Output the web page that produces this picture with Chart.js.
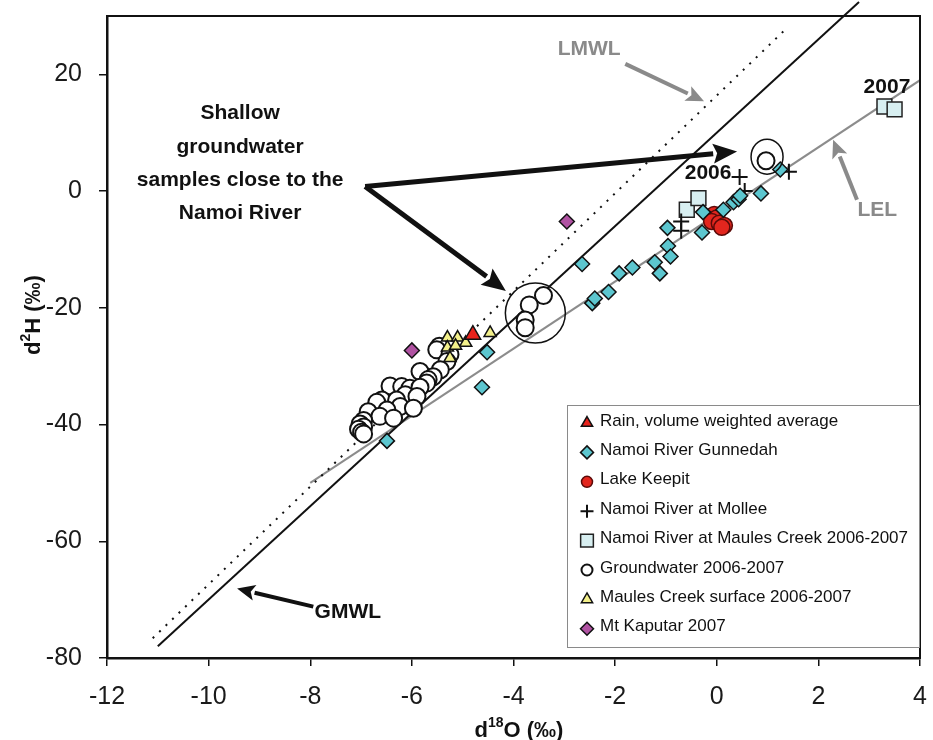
<!DOCTYPE html>
<html>
<head>
<meta charset="utf-8">
<script src="https://cdn.jsdelivr.net/npm/chart.js@4"></script>
<style>
  html, body { margin: 0; padding: 0; background: #fff; }
  #wrap { width: 933px; height: 740px; }
</style>
</head>
<body>
<div id="wrap"><canvas id="isoChart" width="933" height="740"></canvas></div>
<script>
// tick labels
const xTickValues = [-12, -10, -8, -6, -4, -2, 0, 2, 4];
const yTickValues = [-80, -60, -40, -20, 0, 20];

// series, [d18O, d2H]
const rainPts = [[-4.8, -24.6]];
const gunnedahPts = [
  [-6.49, -42.8], [-4.62, -33.6], [-4.52, -27.6], [-2.65, -12.5], [-2.45, -19.2],
  [-2.40, -18.4], [-2.13, -17.3], [-1.92, -14.1], [-1.66, -13.1], [-1.22, -12.2],
  [-1.12, -14.1], [-0.97, -6.3], [-0.96, -9.4], [-0.91, -11.2], [-0.29, -7.1],
  [-0.27, -3.6], [0.13, -3.2], [0.33, -1.9], [0.43, -1.4], [0.46, -0.8],
  [0.87, -0.4], [1.25, 3.7]
];
const keepitPts = [[-0.05, -4.0], [0.0, -4.6], [-0.1, -5.2], [0.05, -5.5], [0.15, -5.9], [0.1, -6.2]];
const molleePts = [[-0.7, -5.2], [-0.7, -6.8], [0.45, 2.4], [0.55, 0.0], [1.42, 3.3]];
const maulesCreekPts = [[-0.59, -3.2], [-0.36, -1.2], [3.3, 14.5], [3.5, 14.0]];
const groundwaterPts = [
  [-5.46, -26.6], [-5.51, -27.2], [-5.25, -28.0], [-5.31, -29.2], [-5.44, -30.6],
  [-5.84, -30.9], [-5.58, -31.8], [-5.68, -32.3], [-5.71, -32.9], [-6.43, -33.4],
  [-6.20, -33.5], [-6.04, -33.8], [-5.84, -33.6], [-6.13, -34.9], [-5.90, -35.2],
  [-6.59, -35.8], [-6.30, -35.8], [-6.69, -36.2], [-6.23, -36.9], [-5.97, -37.2],
  [-6.49, -37.5], [-6.86, -37.8], [-6.63, -38.6], [-6.36, -38.9], [-6.95, -39.3],
  [-7.02, -39.9], [-6.95, -40.4], [-7.05, -40.8], [-6.99, -41.3], [-6.95, -41.6],
  [-3.41, -17.9], [-3.69, -19.5], [-3.77, -22.1], [-3.77, -23.4], [0.97, 5.2]
];
const maulesSurfacePts = [
  [-5.30, -25.1], [-5.10, -25.1], [-4.94, -26.0], [-5.30, -26.8], [-5.14, -26.5],
  [-5.25, -28.6], [-4.46, -24.3]
];
const kaputarPts = [[-6.0, -27.3], [-2.95, -5.2]];

// reference lines
const gmwlLine = [[-11, -78], [2.8, 32.4]];
const lmwlLine = [[-11.1, -76.6], [1.4, 28.1]];
const lelLine = [[-8, -50], [4, 19]];

const seriesNames = [
  'Rain, volume weighted average', 'Namoi River Gunnedah', 'Lake Keepit',
  'Namoi River at Mollee', 'Namoi River at Maules Creek 2006-2007',
  'Groundwater 2006-2007', 'Maules Creek surface 2006-2007', 'Mt Kaputar 2007'
];

const toXY = arr => arr.map(p => ({ x: p[0], y: p[1] }));

document.addEventListener('DOMContentLoaded', function () {
  const FONT = '"Liberation Sans", Arial, sans-serif';

  const styles = [
    { pointStyle: 'triangle', radius: 9, fill: '#e8231c', stroke: '#111', lw: 1.5 },
    { pointStyle: 'rectRot', radius: 7.5, fill: '#5cc6cf', stroke: '#111', lw: 1.5 },
    { pointStyle: 'circle', radius: 8, fill: '#e3261e', stroke: '#5a0a08', lw: 1.5 },
    { pointStyle: 'cross', radius: 8, fill: '#111', stroke: '#111', lw: 2 },
    { pointStyle: 'rect', radius: 10.5, fill: '#d8eff1', stroke: '#222', lw: 1.5 },
    { pointStyle: 'circle', radius: 8.5, fill: '#ffffff', stroke: '#111', lw: 2 },
    { pointStyle: 'triangle', radius: 7, fill: '#f3f08a', stroke: '#111', lw: 1.5 },
    { pointStyle: 'rectRot', radius: 7.5, fill: '#b052a2', stroke: '#111', lw: 1.5 }
  ];
  const seriesData = [rainPts, gunnedahPts, keepitPts, molleePts, maulesCreekPts,
    groundwaterPts, maulesSurfacePts, kaputarPts];

  const pointSets = seriesData.map((pts, i) => ({
    label: seriesNames[i],
    data: toXY(pts),
    pointStyle: styles[i].pointStyle,
    pointRadius: styles[i].radius,
    pointBackgroundColor: styles[i].fill,
    pointBorderColor: styles[i].stroke,
    pointBorderWidth: styles[i].lw,
    showLine: false,
    order: i === 5 ? 6 : 1
  }));

  const lineSets = [
    { label: 'GMWL', data: toXY(gmwlLine), borderColor: '#111', borderWidth: 2, clip: false },
    { label: 'LMWL', data: toXY(lmwlLine), borderColor: '#111', borderWidth: 2, borderDash: [2, 7] },
    { label: 'LEL', data: toXY(lelLine), borderColor: '#8c8c8c', borderWidth: 2 }
  ].map(d => Object.assign(d, { showLine: true, pointRadius: 0, order: 10 }));

  // simple marker painter for the legend
  function marker(ctx, s, x, y, r) {
    ctx.beginPath();
    if (s.pointStyle === 'triangle') {
      ctx.moveTo(x, y - r);
      ctx.lineTo(x + r * 0.866, y + r * 0.5);
      ctx.lineTo(x - r * 0.866, y + r * 0.5);
      ctx.closePath();
    } else if (s.pointStyle === 'rectRot') {
      ctx.moveTo(x, y - r); ctx.lineTo(x + r, y); ctx.lineTo(x, y + r); ctx.lineTo(x - r, y);
      ctx.closePath();
    } else if (s.pointStyle === 'rect') {
      const h = r * 0.707;
      ctx.rect(x - h, y - h, 2 * h, 2 * h);
    } else if (s.pointStyle === 'circle') {
      ctx.arc(x, y, r, 0, Math.PI * 2);
    } else if (s.pointStyle === 'cross') {
      ctx.moveTo(x - r, y); ctx.lineTo(x + r, y); ctx.moveTo(x, y - r); ctx.lineTo(x, y + r);
      ctx.strokeStyle = s.stroke; ctx.lineWidth = 2; ctx.stroke();
      return;
    }
    ctx.fillStyle = s.fill; ctx.fill();
    ctx.strokeStyle = s.stroke; ctx.lineWidth = s.lw; ctx.stroke();
  }

  function arrow(ctx, x1, y1, x2, y2, color, w, headLen, headW) {
    const ang = Math.atan2(y2 - y1, x2 - x1);
    const bx = x2 - Math.cos(ang) * headLen, by = y2 - Math.sin(ang) * headLen;
    ctx.strokeStyle = color; ctx.fillStyle = color; ctx.lineWidth = w;
    ctx.beginPath(); ctx.moveTo(x1, y1); ctx.lineTo(bx, by); ctx.stroke();
    ctx.beginPath();
    ctx.moveTo(x2, y2);
    ctx.lineTo(bx + Math.sin(ang) * headW, by - Math.cos(ang) * headW);
    ctx.lineTo(bx + Math.cos(ang) * 4, by + Math.sin(ang) * 4);
    ctx.lineTo(bx - Math.sin(ang) * headW, by + Math.cos(ang) * headW);
    ctx.closePath(); ctx.fill();
  }

  const overlay = {
    id: 'overlay',
    afterDraw(chart) {
      const { ctx, chartArea: a, scales: { x, y } } = chart;
      const px = v => x.getPixelForValue(v);
      const py = v => y.getPixelForValue(v);
      ctx.save();

      // frame
      ctx.strokeStyle = '#111'; ctx.lineWidth = 2;
      ctx.strokeRect(a.left, a.top, a.right - a.left, a.bottom - a.top);

      // circled groundwater samples
      ctx.lineWidth = 1.5;
      ctx.beginPath(); ctx.arc(px(-3.57), py(-20.9), 30, 0, Math.PI * 2); ctx.stroke();
      ctx.beginPath(); ctx.ellipse(px(0.99), py(5.9), 16, 17.5, 0, 0, Math.PI * 2); ctx.stroke();

      // note and arrows
      ctx.fillStyle = '#111';
      ctx.font = 'bold 21px ' + FONT;
      ctx.textAlign = 'center'; ctx.textBaseline = 'middle';
      const note = ['Shallow', 'groundwater', 'samples close to the', 'Namoi River'];
      const noteY = [13.4, 7.6, 1.9, -3.8];
      note.forEach((t, i) => ctx.fillText(t, px(-9.38), py(noteY[i])));
      arrow(ctx, px(-6.92), py(0.77), px(0.40), py(6.8), '#111', 5, 24, 10);
      arrow(ctx, px(-6.92), py(0.77), px(-4.15), py(-17.1), '#111', 5, 24, 10);

      ctx.fillStyle = '#111';
      ctx.fillText('2006', px(-0.17), py(3.1));
      ctx.fillText('2007', px(3.35), py(17.8));
      ctx.fillText('GMWL', px(-7.26), py(-72.2));
      arrow(ctx, px(-7.94), py(-71.2), px(-9.44), py(-68.1), '#111', 4, 18, 8);

      ctx.fillStyle = '#8a8a8a';
      ctx.fillText('LMWL', px(-2.51), py(24.3));
      ctx.fillText('LEL', px(3.16), py(-3.2));
      arrow(ctx, px(-1.80), py(21.8), px(-0.25), py(15.4), '#8a8a8a', 4, 18, 8);
      arrow(ctx, px(2.76), py(-1.5), px(2.29), py(8.8), '#8a8a8a', 4, 18, 8);

      // legend box
      const lw = 353, lh = 243;
      const lx = a.right - lw, ly = a.top + 389;
      ctx.fillStyle = '#fff'; ctx.fillRect(lx, ly, lw, lh);
      ctx.strokeStyle = '#8a8a8a'; ctx.lineWidth = 1;
      ctx.strokeRect(lx + 0.5, ly + 0.5, lw - 1, lh - 1);
      ctx.font = '17px ' + FONT;
      ctx.textAlign = 'left'; ctx.textBaseline = 'middle';
      seriesNames.forEach((name, i) => {
        const ry = ly + 16 + i * 29.4;
        const s = styles[i];
        const r = s.pointStyle === 'rect' ? 9 : (s.pointStyle === 'circle' ? 5.5 : 6.5);
        marker(ctx, s, lx + 20, ry + 2, r);
        ctx.fillStyle = '#111';
        ctx.fillText(name, lx + 33, ry);
      });

      // axis titles with superscripts
      ctx.fillStyle = '#111';
      ctx.textBaseline = 'alphabetic';
      const big = 'bold 22px ' + FONT, small = 'bold 14px ' + FONT;
      function titled(parts, cx, cy) {
        let w = 0;
        parts.forEach(p => { ctx.font = p[1] ? small : big; w += ctx.measureText(p[0]).width; });
        let cur = cx - w / 2;
        parts.forEach(p => {
          ctx.font = p[1] ? small : big;
          ctx.fillText(p[0], cur, cy - (p[1] ? 10 : 0));
          cur += ctx.measureText(p[0]).width;
        });
      }
      ctx.textAlign = 'left';
      titled([['d', 0], ['18', 1], ['O (\u2030)', 0]], 519, 737);
      ctx.translate(40, 315);
      ctx.rotate(-Math.PI / 2);
      titled([['d', 0], ['2', 1], ['H (\u2030)', 0]], 0, 0);
      ctx.restore();
    }
  };

  const tickFont = { family: FONT, size: 25 };

  const isoConfig = {
    type: 'scatter',
    data: { datasets: pointSets.concat(lineSets) },
    options: {
      responsive: false,
      animation: false,
      layout: { padding: { top: 16, right: 13, left: 0, bottom: 0 } },
      plugins: {
        legend: { display: false },
        tooltip: { enabled: false }
      },
      scales: {
        x: {
          type: 'linear',
          min: -12,
          max: 4,
          afterBuildTicks: s => { s.ticks = xTickValues.map(v => ({ value: v })); },
          afterFit: s => { s.height = 82; s.paddingLeft = 0; s.paddingRight = 0; },
          ticks: { font: tickFont, color: '#1a1a1a', padding: 16, maxRotation: 0 },
          grid: { drawOnChartArea: false, tickLength: 8, color: '#111', lineWidth: 1.5 },
          border: { color: '#111', width: 2.5 }
        },
        y: {
          type: 'linear',
          min: -80,
          max: 30,
          afterBuildTicks: s => { s.ticks = yTickValues.map(v => ({ value: v })); },
          afterFit: s => { s.width = 107; s.paddingTop = 0; s.paddingBottom = 0; },
          ticks: { font: tickFont, color: '#1a1a1a', padding: 17 },
          grid: { drawOnChartArea: false, tickLength: 8, color: '#111', lineWidth: 1.5 },
          border: { color: '#111', width: 2.5 }
        }
      }
    },
    plugins: [overlay]
  };

  const isoChart = new Chart(document.getElementById('isoChart'), isoConfig);
});
</script>
</body>
</html>
